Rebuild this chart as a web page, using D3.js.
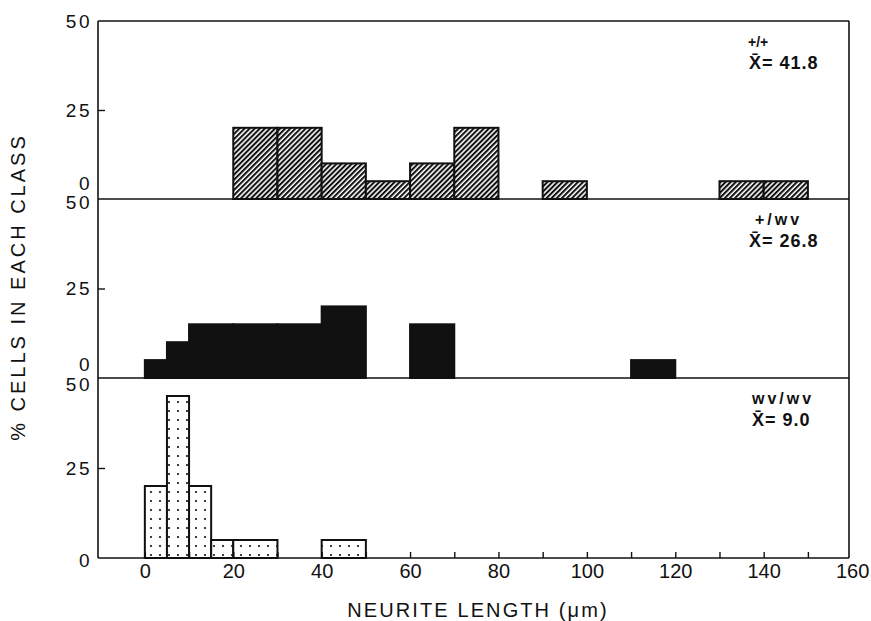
<!DOCTYPE html>
<html>
<head>
<meta charset="utf-8">
<script src="https://d3js.org/d3.v7.min.js"></script>
<style>
  body { margin: 0; background: #fff; }
  svg text { font-family: "Liberation Sans", Arial, sans-serif; fill: #111; }
</style>
</head>
<body>
<svg id="chart" width="871" height="621"></svg>
<script>
// histogram data, % of cells per neurite length class (um)
var wtStart = [20, 30, 40, 50, 60, 70, 90, 130, 140];
var wtEnd   = [30, 40, 50, 60, 70, 80, 100, 140, 150];
var wtPct   = [20, 20, 10, 5, 10, 20, 5, 5, 5];

var hetStart = [0, 5, 10, 20, 30, 40, 60, 110];
var hetEnd   = [5, 10, 20, 30, 40, 50, 70, 120];
var hetPct   = [5, 10, 15, 15, 15, 20, 15, 5];

var mutStart = [0, 5, 10, 15, 20, 40];
var mutEnd   = [5, 10, 15, 20, 30, 50];
var mutPct   = [20, 45, 20, 5, 5, 5];

var genotypes = ["+/+", "+/wv", "wv/wv"];
var means = ["41.8", "26.8", "9.0"];
var xTicks = [0, 20, 40, 60, 80, 100, 120, 140, 160];
var yTicks = [0, 25, 50];

var svg = d3.select("#chart");
var left = 98, right = 849;
var x = d3.scaleLinear().domain([-10.6, 159.3]).range([left, right]);

var defs = svg.append("defs");
var hatch = defs.append("pattern")
    .attr("id", "hatch")
    .attr("patternUnits", "userSpaceOnUse")
    .attr("width", 3.6).attr("height", 3.6)
    .attr("patternTransform", "rotate(45)");
hatch.append("rect").attr("width", 3.6).attr("height", 3.6).attr("fill", "#fff");
hatch.append("line")
    .attr("x1", 1).attr("y1", 0).attr("x2", 1).attr("y2", 3.6)
    .attr("stroke", "#111").attr("stroke-width", 2.1);

var dots = defs.append("pattern")
    .attr("id", "dots")
    .attr("patternUnits", "userSpaceOnUse")
    .attr("width", 9).attr("height", 9)
    .attr("x", 3).attr("y", 2);
dots.append("rect").attr("width", 9).attr("height", 9).attr("fill", "#fff");
dots.append("circle").attr("cx", 4).attr("cy", 4).attr("r", 1.1).attr("fill", "#111");

var panels = [
  {start: wtStart, end: wtEnd, pct: wtPct, fill: "url(#hatch)", top: 21, base: 199, zeroDy: -16, topDy: 0},
  {start: hetStart, end: hetEnd, pct: hetPct, fill: "#111", top: 199, base: 378, zeroDy: -14, topDy: 3},
  {start: mutStart, end: mutEnd, pct: mutPct, fill: "url(#dots)", top: 378, base: 558, zeroDy: 2, topDy: 6}
];

panels.forEach(function(p, i) {
  var y = d3.scaleLinear().domain([0, 50]).range([p.base, p.top]);
  var g = svg.append("g");

  var bins = p.start.map(function(s, j) { return {s: s, e: p.end[j], v: p.pct[j]}; });
  g.selectAll("rect.bar")
    .data(bins)
    .enter().append("rect")
    .attr("class", "bar")
    .attr("x", function(d) { return x(d.s); })
    .attr("width", function(d) { return x(d.e) - x(d.s); })
    .attr("y", function(d) { return y(d.v); })
    .attr("height", function(d) { return y(0) - y(d.v); })
    .attr("fill", p.fill)
    .attr("stroke", "#111")
    .attr("stroke-width", 2);

  // baseline across the whole panel
  g.append("line")
    .attr("x1", left).attr("x2", right)
    .attr("y1", y(0)).attr("y2", y(0))
    .attr("stroke", "#111").attr("stroke-width", 1.6);

  // small inward tick at 25
  g.append("g")
    .attr("transform", "translate(" + left + ",0)")
    .call(d3.axisLeft(y).tickValues([25]).tickSize(-7).tickFormat(""))
    .call(function(a) { a.select(".domain").remove(); })
    .selectAll("line").attr("stroke", "#111").attr("stroke-width", 1.4);

  // y labels
  g.selectAll("text.ylab")
    .data(yTicks)
    .enter().append("text")
    .attr("class", "ylab")
    .attr("x", left - 6)
    .attr("y", function(d) { return y(d) + (d === 0 ? p.zeroDy : (d === 50 ? p.topDy : 0)); })
    .attr("dy", "0.36em")
    .attr("text-anchor", "end")
    .attr("font-size", 19)
    .attr("letter-spacing", 2.5)
    .text(function(d) { return d; });

  // genotype and mean
  g.append("text")
    .attr("x", i === 0 ? 748 : (i === 1 ? 755 : 752))
    .attr("y", p.top + 26)
    .attr("font-size", i === 0 ? 14 : 16)
    .attr("font-weight", "bold")
    .attr("letter-spacing", i === 0 ? 0 : 3)
    .text(genotypes[i]);
  g.append("text")
    .attr("x", 749 + (i === 2 ? 3 : 0))
    .attr("y", p.top + 48)
    .attr("font-size", 18)
    .attr("font-weight", "bold")
    .attr("letter-spacing", 1)
    .text("X\u0304= " + means[i]);
});

// frame: left axis, top and right border
svg.append("line").attr("x1", left).attr("x2", left).attr("y1", 21).attr("y2", 558)
  .attr("stroke", "#111").attr("stroke-width", 1.6);
svg.append("line").attr("x1", right).attr("x2", right).attr("y1", 21).attr("y2", 558)
  .attr("stroke", "#111").attr("stroke-width", 1.6);
svg.append("line").attr("x1", left).attr("x2", right).attr("y1", 21).attr("y2", 21)
  .attr("stroke", "#111").attr("stroke-width", 1.6);

// x axis: inward ticks every 10, labels every 20
svg.append("g")
  .attr("transform", "translate(0,558)")
  .call(d3.axisTop(x).tickValues(d3.range(0, 160, 10)).tickSize(6).tickFormat(""))
  .call(function(a) { a.select(".domain").remove(); })
  .selectAll("line").attr("stroke", "#111").attr("stroke-width", 1.4);

var xAxis = svg.append("g")
  .attr("transform", "translate(0,558)")
  .call(d3.axisBottom(x).tickValues(xTicks).tickSize(0).tickPadding(6));
xAxis.select(".domain").remove();
xAxis.selectAll("text")
  .attr("font-size", 20)
  .attr("font-family", "Liberation Sans, Arial, sans-serif")
  .attr("fill", "#111");

svg.append("text")
  .attr("x", 478).attr("y", 617)
  .attr("text-anchor", "middle")
  .attr("font-size", 20)
  .attr("letter-spacing", 2.1)
  .text("NEURITE LENGTH (\u03bcm)");

svg.append("text")
  .attr("transform", "translate(25,287) rotate(-90)")
  .attr("text-anchor", "middle")
  .attr("font-size", 20)
  .attr("letter-spacing", 3)
  .text("% CELLS IN EACH CLASS");
</script>
</body>
</html>
